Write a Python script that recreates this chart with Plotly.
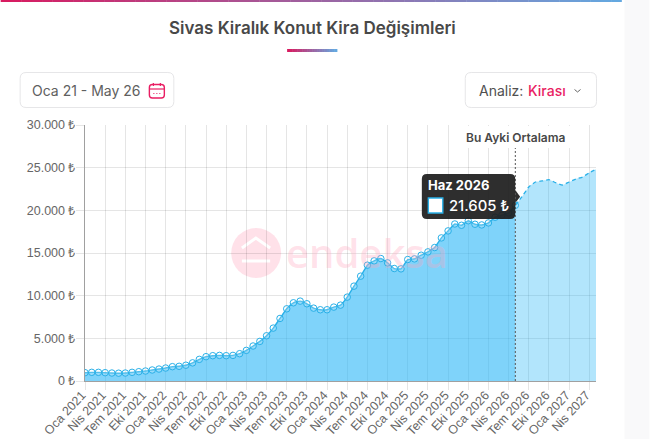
import plotly.graph_objects as go

WIDTH, HEIGHT = 650, 439
LEFT, RIGHT, TOP, BOTTOM = 84.5, 596.5, 125.0, 381.0

MONTH_NAMES = ["Oca", "Şub", "Mar", "Nis", "May", "Haz", "Tem", "Ağu", "Eyl", "Eki", "Kas", "Ara"]
months = [f"{MONTH_NAMES[i % 12]} {2021 + i // 12}" for i in range(77)]

# Observed monthly average rent, Oca 2021 - May 2026
observed_rent = [
    975, 1015, 1015, 975, 935, 915, 935, 1015, 1090, 1170, 1290, 1400, 1520,
    1680, 1720, 1850, 2125, 2535, 2850, 2965, 3000, 2965, 3000, 3200, 3590,
    4100, 4640, 5300, 6200, 7330, 8460, 9165, 9360, 9050, 8540, 8350, 8350,
    8660, 8890, 9830, 11115, 12285, 13570, 14080, 14350, 13845, 13180, 13140,
    14235, 14310, 14740, 15130, 15640, 16770, 17590, 18400, 18250, 18780,
    18370, 18290, 18525, 19190, 19420, 19700, 20590,
]
# Projected rent, May 2026 - May 2027
projected_rent = [
    20590, 21605, 22740, 23320, 23440, 23600, 23240, 22970, 23320, 23670,
    23900, 24410, 24800,
]

y_ticks = [0, 5000, 10000, 15000, 20000, 25000, 30000]
y_tick_labels = ["0 ₺", "5.000 ₺", "10.000 ₺", "15.000 ₺", "20.000 ₺", "25.000 ₺", "30.000 ₺"]
x_ticks = months[::3]

INK = "#484848"
PINK = "#e91e63"
LINE_BLUE = "#29b0e8"
GRID = "rgba(0,0,0,0.1)"
BODY_FONT = "Inter"
AXIS_FONT = "Liberation Sans"


def px(x):
    return (x - LEFT) / (RIGHT - LEFT)


def py(y):
    return (BOTTOM - y) / (BOTTOM - TOP)


def paper_shape(kind, x0, y0, x1, y1, **kw):
    return dict(type=kind, xref="paper", yref="paper",
                x0=px(x0), x1=px(x1), y0=py(y0), y1=py(y1), **kw)


def poly(points, closed=False, **kw):
    path = "M " + " L ".join(f"{px(x):.5f},{py(y):.5f}" for x, y in points)
    if closed:
        path += " Z"
    return dict(type="path", xref="paper", yref="paper", path=path, **kw)


def rounded(x0, y0, x1, y1, r, **kw):
    X0, X1 = px(x0), px(x1)
    Y0, Y1 = py(y0), py(y1)
    rx = r / (RIGHT - LEFT)
    ry = r / (BOTTOM - TOP)
    path = (f"M {X0 + rx},{Y0} L {X1 - rx},{Y0} Q {X1},{Y0} {X1},{Y0 - ry} "
            f"L {X1},{Y1 + ry} Q {X1},{Y1} {X1 - rx},{Y1} "
            f"L {X0 + rx},{Y1} Q {X0},{Y1} {X0},{Y1 + ry} "
            f"L {X0},{Y0 - ry} Q {X0},{Y0} {X0 + rx},{Y0} Z")
    return dict(type="path", xref="paper", yref="paper", path=path, **kw)


def gradient_bar(x0, x1, y0, y1, start, end, steps):
    bars = []
    for k in range(steps):
        t = k / (steps - 1)
        colour = tuple(round(a + (b - a) * t) for a, b in zip(start, end))
        seg0 = x0 + (x1 - x0) * k / steps
        seg1 = x0 + (x1 - x0) * (k + 1) / steps + 0.4
        bars.append(paper_shape("rect", seg0, y0, seg1, y1,
                                fillcolor=f"rgb{colour}", line_width=0, layer="above"))
    return bars


def label(x, y, text, size=14, color=INK, weight=400, anchor="left", family=BODY_FONT, **kw):
    return dict(xref="paper", yref="paper", x=px(x), y=py(y), text=text,
                showarrow=False, xanchor=anchor, yanchor="middle",
                font=dict(family=family, size=size, color=color, weight=weight), **kw)


fig = go.Figure()

# Observed series with circular markers
fig.add_trace(go.Scatter(
    x=months[:len(observed_rent)], y=observed_rent, mode="lines+markers",
    fill="tozeroy", fillcolor="rgba(41,182,246,0.6)",
    line=dict(color=LINE_BLUE, width=1.4, shape="spline", smoothing=0.4),
    marker=dict(size=6.5, color="rgba(255,255,255,0.2)", line=dict(color=LINE_BLUE, width=1)),
    hoverinfo="skip", showlegend=False,
))
# Projection: paler fill, dashed outline, no markers
fig.add_trace(go.Scatter(
    x=months[len(observed_rent) - 1:], y=projected_rent, mode="lines",
    fill="tozeroy", fillcolor="rgba(41,182,246,0.36)",
    line=dict(color=LINE_BLUE, width=1.3, dash="4px,3px", shape="spline", smoothing=0.4),
    hoverinfo="skip", showlegend=False,
))

shapes = [
    # page margin to the right of the card
    paper_shape("rect", 625, 0, 650, 439, fillcolor="#f9f9fa", line_width=0, layer="below"),
    # watermark logo
    paper_shape("circle", 231, 228, 281, 278, fillcolor="rgba(255,205,218,0.6)", line_width=0, layer="below"),
    poly([(241.7, 248), (255.7, 238), (270, 248)], line=dict(color="#ffffff", width=3), layer="below"),
    poly([(241.7, 261), (270, 261)], line=dict(color="#ffffff", width=3), layer="below"),
    # filter buttons
    rounded(19.5, 72.5, 173.5, 107.5, 6, fillcolor="#ffffff", line=dict(color="#e6e6e8", width=1), layer="above"),
    rounded(465.5, 72.5, 597, 107.5, 6, fillcolor="#ffffff", line=dict(color="#e6e6e8", width=1), layer="above"),
    # calendar icon
    rounded(149, 84.5, 164, 98, 3, fillcolor="rgba(0,0,0,0)", line=dict(color=PINK, width=1.4), layer="above"),
    poly([(149, 89), (164, 89)], line=dict(color=PINK, width=1.2), layer="above"),
    poly([(153, 83), (153, 86)], line=dict(color=PINK, width=1.2), layer="above"),
    poly([(160, 83), (160, 86)], line=dict(color=PINK, width=1.2), layer="above"),
    poly([(153, 93.5), (154, 93.5)], line=dict(color=PINK, width=1.2), layer="above"),
    poly([(156, 93.5), (157, 93.5)], line=dict(color=PINK, width=1.2), layer="above"),
    poly([(159, 93.5), (160, 93.5)], line=dict(color=PINK, width=1.2), layer="above"),
    # dropdown chevron
    poly([(575, 89.5), (578, 92), (581, 89.5)], line=dict(color="#666666", width=1), layer="above"),
    # current-month marker line and its label backing
    dict(type="line", xref="x", yref="paper", x0=months[64], x1=months[64], y0=0, y1=1,
         line=dict(color="#555555", width=1, dash="2px,2px"), layer="above"),
    paper_shape("rect", 462, 126, 572, 148, fillcolor="#ffffff", line_width=0, layer="above"),
    # tooltip body, caret and colour swatch
    rounded(422, 174, 515.6, 219, 5, fillcolor="rgba(30,30,30,0.93)", line_width=0, layer="above"),
    poly([(515.6, 190), (520.5, 196.7), (515.6, 203)], closed=True,
         fillcolor="rgba(30,30,30,0.93)", line_width=0, layer="above"),
    paper_shape("rect", 428.5, 198, 443, 213, fillcolor="#ffffff", line=dict(color=LINE_BLUE, width=1.4), layer="above"),
]
shapes += gradient_bar(0, 622, 0, 2, (216, 27, 96), (100, 168, 224), 60)
shapes += gradient_bar(287, 337, 49, 52, (216, 27, 96), (100, 168, 224), 20)

annotations = [
    label(312, 28, "Sivas Kiralık Konut Kira Değişimleri", size=17, weight=600, anchor="center"),
    label(29, 90, "Oca 21 - May 26", size=14, color="#606060"),
    label(477, 90, "Analiz:", size=14, color="#505050"),
    label(526, 90, "Kirası", size=14, color=PINK, weight=500),
    label(516, 137, "Bu Ayki Ortalama", size=12, weight=600, anchor="center"),
    label(426, 185, "Haz 2026", size=13, color="#ffffff", weight=700),
    label(447, 205.5, "21.605 ₺", size=14.8, color="#ffffff", weight=500),
    label(284, 252, "endeksa", size=40, color="rgba(255,165,190,0.32)", weight=600, family="Open Sans"),
]

fig.update_layout(
    width=WIDTH, height=HEIGHT,
    margin=dict(l=LEFT, r=WIDTH - RIGHT, t=TOP, b=HEIGHT - BOTTOM, pad=0),
    paper_bgcolor="#ffffff", plot_bgcolor="#ffffff",
    shapes=shapes, annotations=annotations, hovermode=False, showlegend=False,
    xaxis=dict(
        type="category", categoryorder="array", categoryarray=months, range=[0, 76],
        automargin=False,
        tickmode="array", tickvals=x_ticks, ticktext=x_ticks, tickangle=-47,
        ticklabelstandoff=-7, ticklabelshift=-3,
        tickfont=dict(family=AXIS_FONT, size=12.5, color="#666666"),
        showgrid=True, gridcolor=GRID, gridwidth=1,
        ticks="outside", ticklen=8, tickcolor=GRID, tickwidth=1,
        showline=True, linecolor="#a0a0a0", linewidth=1, zeroline=False,
    ),
    yaxis=dict(
        range=[0, 30000], automargin=False,
        tickmode="array", tickvals=y_ticks, ticktext=y_tick_labels,
        ticklabelstandoff=-2,
        tickfont=dict(family=AXIS_FONT, size=12.5, color="#666666"),
        showgrid=True, gridcolor=GRID, gridwidth=1,
        ticks="outside", ticklen=8, tickcolor=GRID, tickwidth=1,
        showline=True, linecolor="#a0a0a0", linewidth=1, zeroline=False,
    ),
)

fig.write_html("out.html", config={"displayModeBar": False})
